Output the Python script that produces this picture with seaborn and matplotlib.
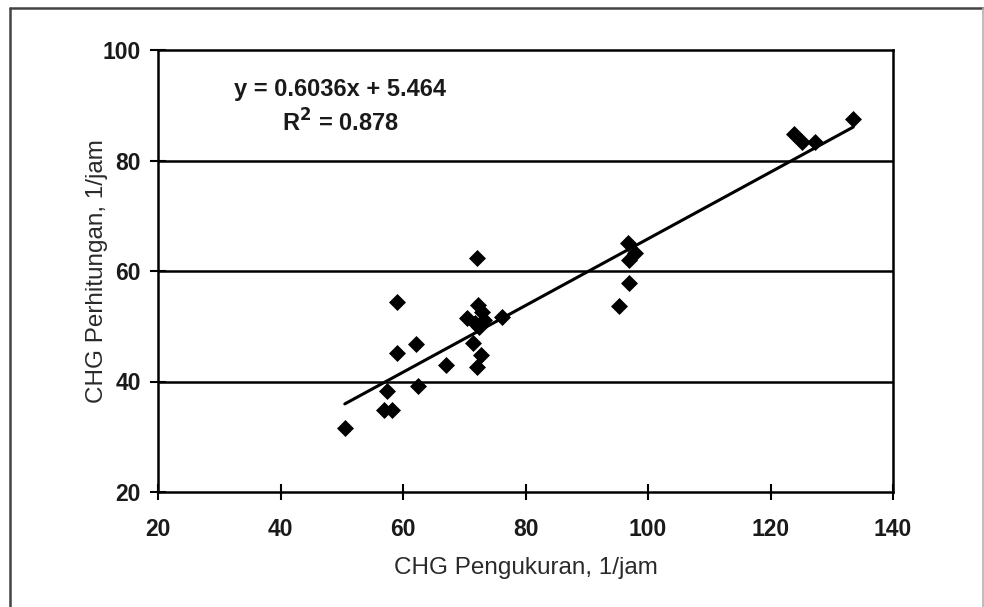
import matplotlib
matplotlib.use("Agg")
import matplotlib.pyplot as plt
import seaborn as sns
import numpy as np
import pandas as pd
from matplotlib.lines import Line2D

# Data
x_measured = [50.5, 56.9, 58.2, 57.4, 59.0, 59.1, 62.2, 62.5, 67.1, 70.4,
              71.5, 72.0, 72.0, 72.8, 71.8, 72.3, 72.9, 72.4, 73.2, 76.1,
              95.2, 96.8, 96.9, 97.9, 96.9, 123.8, 125.2, 127.3, 133.5]
y_computed = [31.6, 34.8, 34.8, 38.2, 45.2, 54.4, 46.8, 39.2, 43.0, 51.5,
              47.0, 62.3, 42.7, 44.8, 50.5, 53.8, 52.6, 49.8, 51.2, 51.7,
              53.7, 65.0, 62.0, 63.2, 57.9, 84.8, 83.3, 83.4, 87.6]
slope = 0.6036
intercept = 5.464
r2 = 0.878
x_ticks = [20, 40, 60, 80, 100, 120, 140]
y_ticks = [20, 40, 60, 80, 100]

df = pd.DataFrame({"x": x_measured, "y": y_computed})

sns.set_theme(style="white")
plt.rcParams["font.family"] = ["Liberation Sans", "DejaVu Sans"]

fig = plt.figure(figsize=(9.84, 6.07), dpi=100)
ax = fig.add_axes([158 / 984, 1 - 492 / 607, (893 - 158) / 984, (492 - 50) / 607])

for yv in [40, 60, 80]:
    ax.axhline(yv, color="black", lw=1.8, zorder=1)

sns.scatterplot(data=df, x="x", y="y", marker="D", s=75, color="black",
                edgecolor="black", linewidth=0, ax=ax, zorder=3)

xs = np.array([min(x_measured), max(x_measured)])
sns.lineplot(x=xs, y=slope * xs + intercept, color="black", lw=2.2, ax=ax, zorder=2)

ax.set_xlim(20, 140)
ax.set_ylim(20, 100)
ax.set_xticks(x_ticks)
ax.set_yticks(y_ticks)
ax.tick_params(axis="both", which="major", bottom=True, left=True,
               direction="inout", length=11, width=1.5,
               labelsize=16.5, colors="black")
ax.tick_params(axis="x", pad=13)
ax.tick_params(axis="y", pad=7)
for lab in ax.get_xticklabels() + ax.get_yticklabels():
    lab.set_fontweight("bold")
    lab.set_color("#1a1a1a")
for sp in ax.spines.values():
    sp.set_color("black")
    sp.set_linewidth(1.8)

ax.set_xlabel("CHG Pengukuran, 1/jam", fontsize=17.5, color="#2a2a2a", labelpad=12)
ax.set_ylabel("CHG Perhitungan, 1/jam", fontsize=17.5, color="#2a2a2a", labelpad=-4)

ax.text(0.248, 0.91, f"y = {slope}x + {intercept}", transform=ax.transAxes,
        ha="center", va="center", fontsize=17, fontweight="bold", color="#1a1a1a")
ax.text(0.248, 0.834, f"R$^\\mathbf{{2}}$ = {r2}", transform=ax.transAxes,
        ha="center", va="center", fontsize=17, fontweight="bold", color="#1a1a1a")

# figure frame (cut at the bottom edge like the reference)
L, R, T = 9.5 / 984, 982.5 / 984, 1 - 8 / 607
fig.add_artist(Line2D([L, L], [0, T], transform=fig.transFigure, color="#444444", lw=1.8))
fig.add_artist(Line2D([L, R], [T, T], transform=fig.transFigure, color="#444444", lw=1.8))
fig.add_artist(Line2D([R, R], [0, T], transform=fig.transFigure, color="#b0b0b0", lw=1.2))

fig.savefig("out.png", dpi=100, facecolor="white")
